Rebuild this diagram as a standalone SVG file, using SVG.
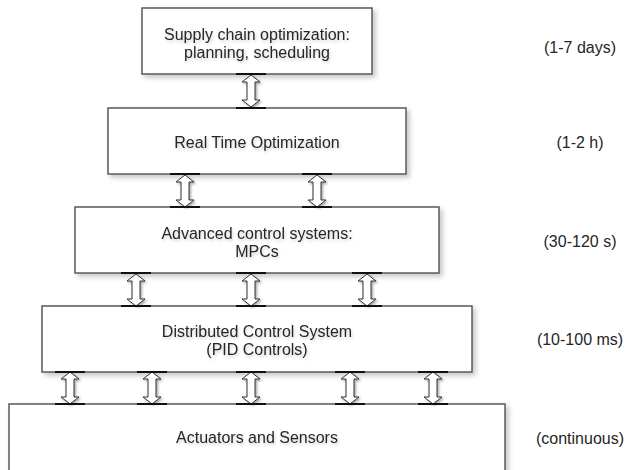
<svg xmlns="http://www.w3.org/2000/svg" width="625" height="470" viewBox="0 0 625 470">
  <style>
    .box { fill: #ffffff; stroke: #5a5a5a; stroke-width: 1.5; filter: url(#shadow); }
    .lbl { font-family: "Liberation Sans", Arial, Helvetica, sans-serif; font-size: 16px; fill: #262626; text-anchor: middle; }
    .txt { filter: url(#glow); }
    .bar { stroke: #111111; stroke-width: 2; }
    .arr { fill: #ffffff; stroke: #333333; stroke-width: 1; filter: url(#ashadow); }
  </style>
  <defs>
    <filter id="shadow" x="-10%" y="-20%" width="125%" height="150%">
      <feDropShadow dx="3" dy="3" stdDeviation="2.5" flood-color="#000000" flood-opacity="0.22"/>
    </filter>
    <filter id="ashadow" x="-50%" y="-20%" width="220%" height="150%">
      <feDropShadow dx="1.5" dy="1.5" stdDeviation="1.2" flood-color="#000000" flood-opacity="0.35"/>
    </filter>
    <filter id="glow" x="-10%" y="-50%" width="120%" height="200%">
      <feDropShadow dx="1" dy="2" stdDeviation="1.5" flood-color="#000000" flood-opacity="0.18"/>
    </filter>
    <!-- double-headed hollow block arrow, 34px long, centred on x=0 -->
    <path id="arr" class="arr" d="M0,1 L9,8 L4,8 L4,26 L9,26 L0,33 L-9,26 L-4,26 L-4,8 L-9,8 Z"/>
  </defs>

  <rect width="625" height="470" fill="#ffffff"/>

  <g id="supply-chain">
    <rect class="box" x="142" y="8" width="230" height="66"/>
    <g class="txt">
      <text class="lbl" x="257" y="39.5">Supply chain optimization:</text>
      <text class="lbl" x="257" y="57.5">planning, scheduling</text>
    </g>
  </g>

  <g id="rto">
    <rect class="box" x="108" y="108" width="298" height="66"/>
    <text class="lbl txt" x="257" y="147.5">Real Time Optimization</text>
  </g>

  <g id="advanced-control">
    <rect class="box" x="75" y="207" width="364" height="66"/>
    <g class="txt">
      <text class="lbl" x="257" y="238.5">Advanced control systems:</text>
      <text class="lbl" x="257" y="256.5">MPCs</text>
    </g>
  </g>

  <g id="dcs">
    <rect class="box" x="42" y="306" width="430" height="66"/>
    <g class="txt">
      <text class="lbl" x="257" y="336.5">Distributed Control System</text>
      <text class="lbl" x="257" y="354.5">(PID Controls)</text>
    </g>
  </g>

  <g id="field">
    <rect class="box" x="9" y="404" width="496" height="80"/>
    <text class="lbl txt" x="257" y="442.5">Actuators and Sensors</text>
  </g>

  <g id="time-scales">
    <text class="lbl" x="580" y="52.5">(1-7 days)</text>
    <text class="lbl" x="580" y="147.5">(1-2 h)</text>
    <text class="lbl" x="580" y="246.5">(30-120 s)</text>
    <text class="lbl" x="580" y="344.5">(10-100 ms)</text>
    <text class="lbl" x="580" y="443.5">(continuous)</text>
  </g>

  <g id="connectors">
    <!-- level 1 to 2 -->
    <use href="#arr" x="251" y="74"/>
    <line class="bar" x1="236" y1="74" x2="266" y2="74"/>
    <line class="bar" x1="236" y1="108" x2="266" y2="108"/>
    <!-- level 2 to 3 -->
    <use href="#arr" x="185" y="174"/>
    <use href="#arr" x="317" y="174"/>
    <line class="bar" x1="170" y1="174" x2="200" y2="174"/>
    <line class="bar" x1="170" y1="207" x2="200" y2="207"/>
    <line class="bar" x1="302" y1="174" x2="332" y2="174"/>
    <line class="bar" x1="302" y1="207" x2="332" y2="207"/>
    <!-- level 3 to 4 -->
    <use href="#arr" x="136" y="273"/>
    <use href="#arr" x="251" y="273"/>
    <use href="#arr" x="367" y="273"/>
    <line class="bar" x1="121" y1="273" x2="151" y2="273"/>
    <line class="bar" x1="121" y1="306" x2="151" y2="306"/>
    <line class="bar" x1="236" y1="273" x2="266" y2="273"/>
    <line class="bar" x1="236" y1="306" x2="266" y2="306"/>
    <line class="bar" x1="352" y1="273" x2="382" y2="273"/>
    <line class="bar" x1="352" y1="306" x2="382" y2="306"/>
    <!-- level 4 to 5 -->
    <use href="#arr" x="70" y="372" transform="translate(0,-1)"/>
    <use href="#arr" x="152" y="372" transform="translate(0,-1)"/>
    <use href="#arr" x="251" y="372" transform="translate(0,-1)"/>
    <use href="#arr" x="350" y="372" transform="translate(0,-1)"/>
    <use href="#arr" x="433" y="372" transform="translate(0,-1)"/>
    <line class="bar" x1="55" y1="372" x2="85" y2="372"/>
    <line class="bar" x1="55" y1="404" x2="85" y2="404"/>
    <line class="bar" x1="137" y1="372" x2="167" y2="372"/>
    <line class="bar" x1="137" y1="404" x2="167" y2="404"/>
    <line class="bar" x1="236" y1="372" x2="266" y2="372"/>
    <line class="bar" x1="236" y1="404" x2="266" y2="404"/>
    <line class="bar" x1="335" y1="372" x2="365" y2="372"/>
    <line class="bar" x1="335" y1="404" x2="365" y2="404"/>
    <line class="bar" x1="418" y1="372" x2="448" y2="372"/>
    <line class="bar" x1="418" y1="404" x2="448" y2="404"/>
  </g>
</svg>
